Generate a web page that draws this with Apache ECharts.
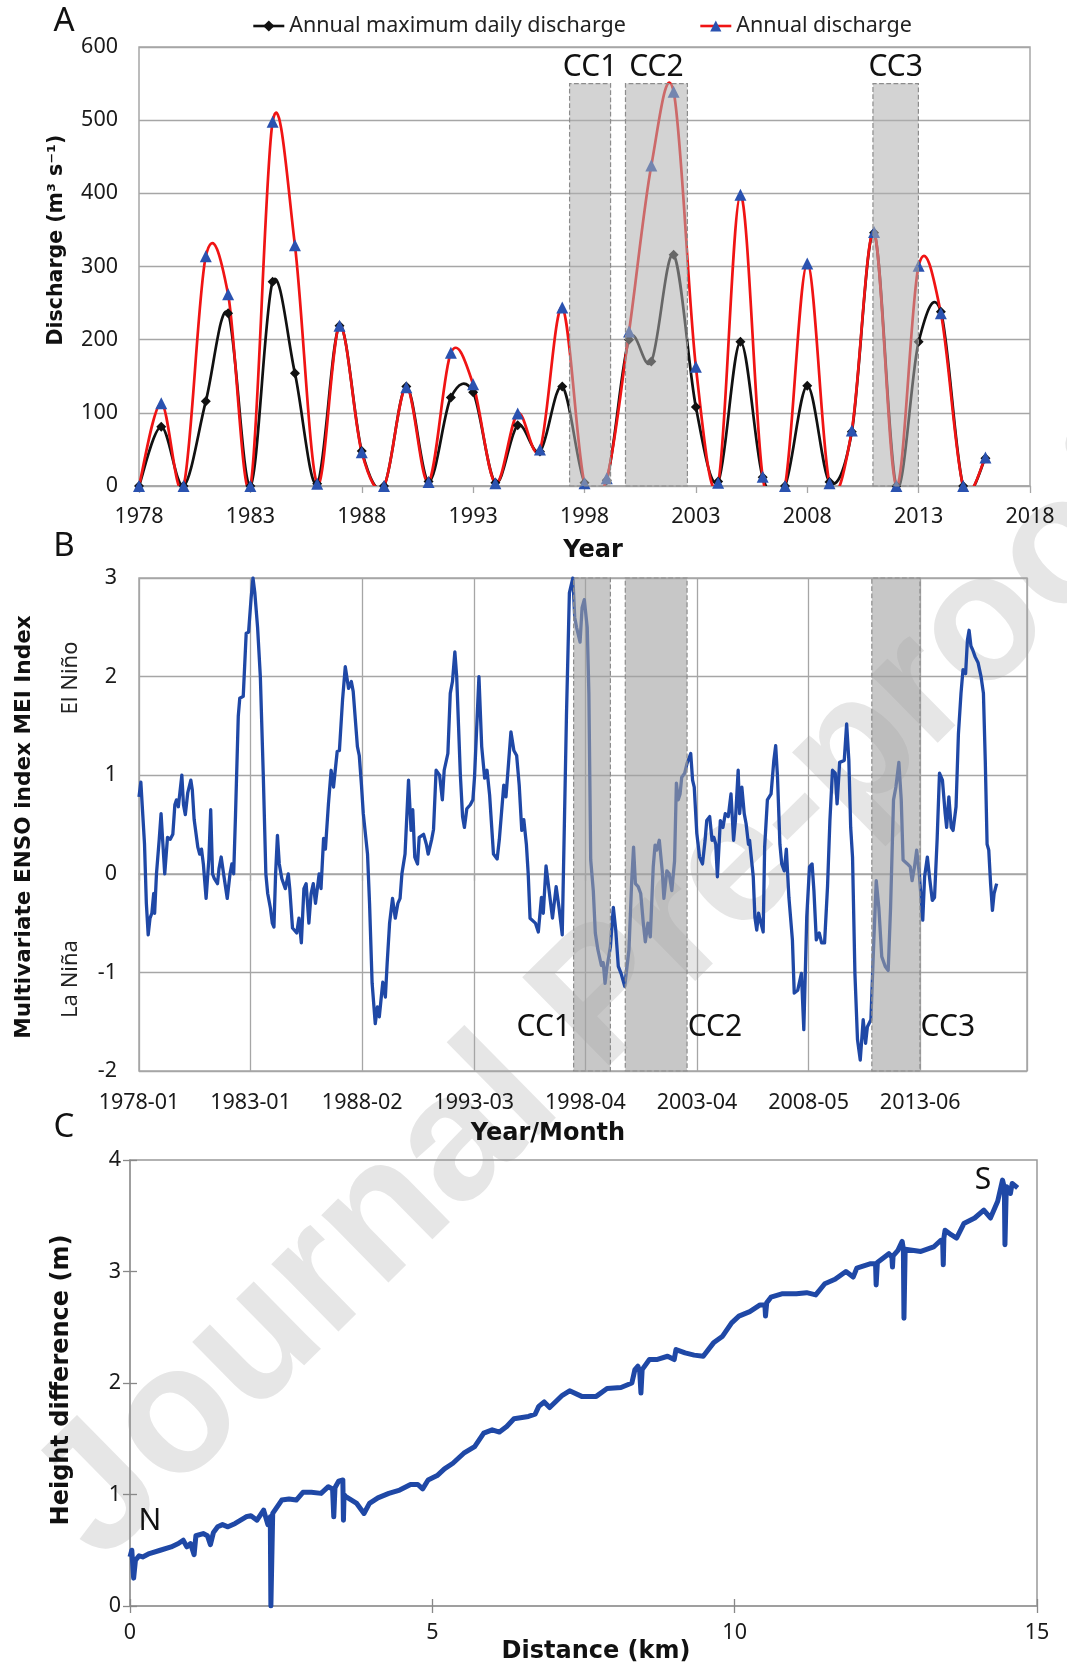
<!DOCTYPE html>
<html><head><meta charset="utf-8">
<script src="https://cdn.jsdelivr.net/npm/echarts@6/dist/echarts.min.js"></script>
<style>html,body{margin:0;padding:0;background:#fff}#c{width:1067px;height:1668px}</style>
</head><body><div id="c"></div>
<script>
// ---------- Panel A data ----------
const baseYear = 1978;
const years = [1978,1979,1980,1981,1982,1983,1984,1985,1986,1987,1988,1989,1990,1991,1992,1993,1994,1995,1996,1997,1998,1999,2000,2001,2002,2003,2004,2005,2006,2007,2008,2009,2010,2011,2012,2013,2014,2015,2016];
const annualMaxDaily = [0,81,0,116,236,0,279,154,3,219,48,0,136,6,121,128,4.5,83,47,136,4.5,8,200,170,316,108,6,197,12,0,137,5.5,74,346,0,197,238,0,38];
const annualDischarge = [0,113,0,314,262,0,498,329,3,219,46,0,135,5.5,182,139,3.6,99,50,244,3.6,10.5,211,438,539,163,4.5,398,12.7,0,304,3.6,76,347,0,301,236,0,39];
const ccNames = ['CC1','CC2','CC3'];
const ccStartYear = [1997.33, 1999.84, 2010.95];
const ccEndYear = [1999.17, 2002.62, 2012.99];
const ccTopA = 550;

// ---------- Panel B data (month index from 1978-01) ----------
const meiTickLabels = ['1978-01','1983-01','1988-02','1993-03','1998-04','2003-04','2008-05','2013-06'];
const monthsPerTick = 60.7;
const ccStartMonth = [236.4, 264.5, 398.6];
const ccEndMonth = [256.4, 298.1, 424.8];
const meiMonth = [0,1,2,3,4,5,6,7,8,8.5,9.5,11,12,13,14,15.5,17,18.4,19.5,20.4,21.4,23.3,24.2,25.2,26.5,28.2,29,30,32,33,34,35,36.5,38,39,40,41,42.7,43.5,44.7,46,48,49.5,50.5,51.5,52.5,54,54.8,56.7,58.3,59.6,61,62,63,64.5,66,67.6,69,70,71.5,72.5,73.4,74.3,75.3,76.3,77.7,79.6,81.2,82,83.5,84.5,85.8,87,88.3,89.7,90.9,92.4,93.6,94.8,96,98,99,100.4,101.4,103,104.5,105.8,107.8,109,110.7,112.2,114,115.5,116.5,118.8,119.8,121,122,124.3,125.4,126.8,128.5,129.7,130.7,132.6,134,135,136.3,137.9,139.4,140.8,142,143,144.7,146.6,148,148.9,150,151.5,152.4,154.8,156.3,157.3,159.2,160.2,161.6,163.5,165,166,168,169.3,170.5,171.8,172.8,173.8,174.8,176,177,178.3,180.2,181.6,182.5,184.9,186.4,188,189.3,190.7,192.8,194.8,196,198.4,199.6,202.3,203.9,205.4,206.8,208.2,209.3,210.7,211.7,212.7,215.6,217.2,218.9,219.9,221.4,224.9,226.9,228.5,230.2,231.2,232.5,234.1,236,237,238,239.9,241,242.2,243.8,244.7,245.7,247.1,248.2,249.6,251.5,252.5,253.5,254.5,256.4,258,259.3,260.7,262.2,264.2,265.1,266.5,268,269,270,271.5,272.9,274.3,275.4,276.8,278.1,279.7,280.7,281.6,283,284.6,285.5,287.1,288.4,289.8,291.3,292.3,293.3,294.3,295.2,296.8,298.1,300.1,301.1,302,303.4,304.9,306.5,307.9,308.8,310.4,311.7,312.7,313.7,314.6,316.2,317.6,318.9,320.5,322,323.4,324.4,325.9,326.7,327.9,329.2,330.2,331.5,332.1,334.1,335,336,337,338.3,339.5,340.3,341.8,343.8,345.3,346.3,347.3,348.6,349.6,351,352.1,353.5,355.4,356.4,358.3,360.3,361.6,363.2,364.7,366.1,367.1,368.4,370,371.3,372.9,374.5,375.8,377.2,378.7,379.7,381.1,383.6,384.9,386.1,387.1,388.1,389.4,390.8,392.3,393.9,395.2,396.2,398.1,399.7,401,402.4,404,405.9,407.5,408.8,410.4,411.7,413.3,414.6,415.6,416.6,418,419.5,420.5,421.8,423,424.4,426.3,427.3,428.8,430.2,431.5,432.7,434.1,435.4,437,438.5,439.3,440.5,441.8,442.8,444.4,445.7,447.1,448.2,449.6,450.6,451.5,452.5,453.5,454.8,456.4,458,459.3,460.3,461.3,462.2,463.2,464.2,465.1,466.5];
const meiValue = [0.78,0.93,0.92,0.3,-0.3,-0.62,-0.45,-0.4,-0.2,-0.4,0.0,0.35,0.61,0.3,0.0,0.37,0.35,0.4,0.7,0.75,0.68,1.0,0.7,0.6,0.82,0.95,0.85,0.55,0.27,0.2,0.25,0.1,-0.25,0.15,0.65,0.0,-0.05,-0.1,0.05,0.17,0.0,-0.25,0.0,0.1,0.0,0.6,1.6,1.78,1.8,2.44,2.45,2.8,3.0,2.85,2.5,2.0,1.0,0.0,-0.2,-0.35,-0.5,-0.54,0.0,0.39,0.1,-0.05,-0.15,0.0,-0.15,-0.55,-0.55,-0.6,-0.45,-0.7,-0.15,-0.1,-0.5,-0.2,-0.1,-0.3,0.0,-0.15,0.36,0.25,0.7,1.05,0.88,1.24,1.25,1.76,2.1,1.88,1.95,1.85,1.29,1.2,0.9,0.61,0.2,-0.3,-1.11,-1.52,-1.35,-1.45,-1.1,-1.25,-0.9,-0.5,-0.25,-0.45,-0.3,-0.25,0.0,0.2,0.95,0.44,0.65,0.17,0.1,0.37,0.4,0.3,0.2,0.35,0.45,1.05,1.0,0.75,1.05,1.22,1.83,1.95,2.25,2.0,1.5,1.0,0.58,0.47,0.66,0.7,0.75,0.98,2.0,1.29,0.97,1.05,0.8,0.2,0.15,0.35,0.9,0.78,1.44,1.25,1.2,0.9,0.44,0.55,0.3,0.0,-0.45,-0.5,-0.59,-0.24,-0.4,0.08,-0.45,-0.13,-0.35,-0.62,0.34,1.6,2.85,3.0,2.6,2.5,2.35,2.7,2.78,2.5,1.83,0.14,-0.17,-0.6,-0.77,-0.93,-0.9,-1.11,-0.95,-0.74,-0.34,-0.57,-0.94,-1.01,-1.14,-1.14,-0.77,-0.07,0.27,-0.1,-0.13,-0.2,-0.5,-0.69,-0.5,-0.64,0.07,0.29,0.24,0.34,0.03,-0.25,0.03,0.0,-0.17,0.13,0.92,0.75,0.81,0.98,1.02,1.12,1.22,0.95,0.88,0.41,0.17,0.1,0.34,0.54,0.58,0.34,0.37,0.3,-0.03,0.54,0.47,0.61,0.58,0.81,0.34,0.54,1.05,0.61,0.88,0.61,0.51,0.3,0.34,-0.03,-0.44,-0.57,-0.4,-0.5,-0.59,0.27,0.75,0.81,1.15,1.3,0.98,0.3,0.1,0.03,0.25,-0.24,-0.67,-1.21,-1.18,-1.01,-1.58,-0.44,0.07,0.1,-0.17,-0.67,-0.6,-0.7,-0.7,-0.13,0.54,1.05,1.02,0.71,1.13,1.15,1.52,1.15,0.47,0.17,-1.01,-1.68,-1.89,-1.48,-1.72,-1.55,-1.48,-0.67,-0.07,-0.34,-0.84,-0.94,-0.98,-0.34,0.75,0.88,1.13,0.75,0.14,0.13,0.1,0.07,-0.07,0.07,0.24,0.0,-0.47,-0.03,0.17,-0.07,-0.27,-0.24,0.34,1.02,0.95,0.61,0.47,0.78,0.47,0.44,0.68,1.42,1.83,2.07,2.03,2.37,2.47,2.31,2.27,2.2,2.14,2.0,1.83,1.15,0.3,0.24,-0.1,-0.37,-0.2,-0.1];

// ---------- Panel C data ----------
const distKm = [0,0.03,0.06,0.09,0.15,0.21,0.32,0.5,0.68,0.8,0.88,0.94,1.0,1.06,1.09,1.21,1.28,1.33,1.38,1.45,1.53,1.62,1.74,1.92,2.0,2.1,2.21,2.28,2.32,2.33,2.35,2.36,2.39,2.51,2.63,2.75,2.86,3.0,3.16,3.28,3.35,3.37,3.39,3.45,3.52,3.53,3.54,3.57,3.75,3.87,3.96,4.1,4.28,4.46,4.64,4.76,4.84,4.93,5.08,5.2,5.34,5.52,5.7,5.85,5.99,6.11,6.23,6.35,6.59,6.7,6.76,6.85,6.94,7.15,7.27,7.47,7.71,7.89,8.12,8.3,8.35,8.4,8.43,8.45,8.47,8.59,8.71,8.89,9.0,9.03,9.18,9.33,9.48,9.65,9.8,9.95,10.07,10.25,10.42,10.5,10.51,10.53,10.6,10.78,11.02,11.19,11.34,11.49,11.66,11.84,11.96,12.02,12.25,12.33,12.34,12.36,12.55,12.6,12.61,12.62,12.7,12.77,12.79,12.8,12.82,12.85,13.08,13.29,13.41,13.44,13.45,13.46,13.48,13.58,13.67,13.79,13.97,14.12,14.23,14.35,14.43,14.46,14.47,14.49,14.5,14.56,14.59,14.68];
const heightM = [0.44,0.5,0.25,0.41,0.45,0.44,0.47,0.5,0.53,0.56,0.59,0.53,0.56,0.46,0.63,0.65,0.63,0.55,0.66,0.71,0.73,0.71,0.74,0.8,0.81,0.77,0.86,0.73,0.8,0.0,0.0,0.83,0.83,0.95,0.96,0.95,1.02,1.02,1.01,1.07,1.05,0.8,1.06,1.12,1.13,0.77,1.0,0.98,0.92,0.83,0.92,0.97,1.01,1.04,1.09,1.09,1.05,1.13,1.17,1.23,1.28,1.37,1.43,1.55,1.58,1.56,1.61,1.68,1.7,1.72,1.79,1.83,1.78,1.89,1.93,1.88,1.88,1.95,1.96,2.0,2.12,2.15,2.1,1.91,2.12,2.21,2.21,2.24,2.21,2.3,2.27,2.25,2.24,2.36,2.42,2.54,2.6,2.64,2.7,2.7,2.6,2.72,2.77,2.8,2.8,2.81,2.79,2.89,2.93,3.0,2.95,3.03,3.07,3.07,2.88,3.08,3.16,3.13,3.04,3.14,3.19,3.27,3.2,2.58,3.2,3.19,3.18,3.22,3.28,3.26,3.06,3.3,3.37,3.33,3.3,3.43,3.48,3.55,3.48,3.63,3.82,3.75,3.24,3.7,3.76,3.7,3.79,3.75];

// ---------- styling ----------
const F = '"Noto Sans","DejaVu Sans",sans-serif';
const FB = '"DejaVu Sans",sans-serif';
const GRID = '#a6a6a6';
const TXT = '#1a1a1a';
const BLUE = '#1f48a6';
const RED = '#f01414';
const BLACK = '#111111';

const lbl = (extra) => Object.assign({fontFamily:F, fontSize:21.5, color:TXT}, extra||{});

// Excel-like smoothed curve (Catmull-Rom Bezier, 1/6 tangents) through the data points of a custom series
function smoothCurve(color, width) {
  return function (params, api) {
    const i = params.dataIndexInside, n = params.dataInsideLength;
    if (i >= n - 1) return null;
    const P = k => { k = Math.max(0, Math.min(n - 1, k)); return api.coord([api.value(0, k), api.value(1, k)]); };
    const p0 = P(i - 1), p1 = P(i), p2 = P(i + 1), p3 = P(i + 2);
    return {
      type: 'bezierCurve',
      shape: {x1:p1[0], y1:p1[1], x2:p2[0], y2:p2[1],
              cpx1:p1[0] + (p2[0] - p0[0]) / 6, cpy1:p1[1] + (p2[1] - p0[1]) / 6,
              cpx2:p2[0] - (p3[0] - p1[0]) / 6, cpy2:p2[1] - (p3[1] - p1[1]) / 6},
      style: {stroke:color, lineWidth:width, fill:'none', lineCap:'round'}
    };
  };
}

const bandsA = ccNames.map((n,i)=>[
  {name:n, xAxis: ccStartYear[i]-baseYear, yAxis: 0},
  {xAxis: ccEndYear[i]-baseYear, yAxis: ccTopA}
]);
const bandsB = ccNames.map((n,i)=>[
  {name:n, xAxis: ccStartMonth[i], yAxis: -2,
   label: i===0 ? {position:[-2,'91%'], align:'right', verticalAlign:'middle'}
                : {position:['100%','91%'], align:'left', verticalAlign:'middle'}},
  {xAxis: ccEndMonth[i], yAxis: 3}
]);

const ptsMax = years.map((y,i)=>[y-baseYear, annualMaxDaily[i]]);
const ptsAnn = years.map((y,i)=>[y-baseYear, annualDischarge[i]]);

const T = (text, x, y, font, extra, fill) => Object.assign({type:'text', x:x, y:y, silent:true,
  style:{text:text, fill:fill||'#111', font:font, align:'center', verticalAlign:'middle', textAlign:'center', textVerticalAlign:'middle'}}, extra||{});

const chart = echarts.init(document.getElementById('c'), null, {renderer:'canvas'});
chart.setOption({
  animation:false,
  backgroundColor:'#ffffff',
  legend:[
    {left:247, top:10, itemWidth:31, itemHeight:14, data:['Annual maximum daily discharge'],
     lineStyle:{color:BLACK, width:2.6, opacity:1}, textStyle:lbl({fontSize:21.5, color:'#222'})},
    {left:694, top:10, itemWidth:31, itemHeight:14, data:['Annual discharge'],
     lineStyle:{color:RED, width:2.6, opacity:1}, textStyle:lbl({fontSize:21.5, color:'#222'})}
  ],
  grid:[
    {left:139, top:47, width:891, height:439, show:true, borderColor:GRID, borderWidth:1.5},
    {left:139, top:578, width:888, height:493, show:true, borderColor:GRID, borderWidth:1.5},
    {left:130, top:1160, width:907, height:446, show:true, borderColor:'#999', borderWidth:1.5}
  ],
  xAxis:[
    {gridIndex:0, type:'value', min:0, max:40, interval:5,
     axisLine:{show:true, lineStyle:{color:GRID, width:1.5}},
     axisTick:{show:true, length:7, lineStyle:{color:GRID, width:1.3}},
     axisLabel:lbl({margin:20, formatter:v=>String(baseYear+v)}),
     splitLine:{show:false}},
    {gridIndex:1, type:'value', min:0, max:483, interval:monthsPerTick,
     axisLine:{show:true, lineStyle:{color:GRID, width:1.5}},
     axisTick:{show:true, length:7, lineStyle:{color:GRID, width:1.3}},
     axisLabel:lbl({margin:21, showMaxLabel:false, formatter:v=>{const k=Math.round(v/monthsPerTick); return Math.abs(k*monthsPerTick-v)<0.01 ? (meiTickLabels[k]||'') : '';}}),
     splitLine:{show:true, lineStyle:{color:GRID, width:1.3}}},
    {gridIndex:2, type:'value', min:0, max:15, interval:5,
     axisLine:{show:true, lineStyle:{color:'#999', width:1.5}},
     axisTick:{show:true, inside:true, length:7, lineStyle:{color:'#888', width:1.3}},
     axisLabel:lbl({margin:16}),
     splitLine:{show:false}},
    {gridIndex:2, type:'value', position:'top', min:0, max:15, interval:5,
     axisLine:{show:false}, axisLabel:{show:false},
     axisTick:{show:true, inside:true, length:7, lineStyle:{color:'#888', width:1.3}},
     splitLine:{show:false}}
  ],
  yAxis:[
    {gridIndex:0, type:'value', min:0, max:600, interval:100,
     axisLine:{show:false}, axisTick:{show:false},
     axisLabel:lbl({margin:21}),
     splitLine:{show:true, lineStyle:{color:GRID, width:1.3}}},
    {gridIndex:1, type:'value', min:-2, max:3, interval:1,
     axisLine:{show:false}, axisTick:{show:false},
     axisLabel:lbl({margin:22}),
     splitLine:{show:true, lineStyle:{color:GRID, width:1.3}}},
    {gridIndex:2, type:'value', min:0, max:4, interval:1,
     axisLine:{show:true, lineStyle:{color:'#999', width:1.5}},
     axisTick:{show:true, inside:true, length:7, lineStyle:{color:'#888', width:1.3}},
     axisLabel:lbl({margin:9}),
     splitLine:{show:false}},
    {gridIndex:2, type:'value', position:'right', min:0, max:4, interval:1,
     axisLine:{show:false}, axisLabel:{show:false},
     axisTick:{show:true, inside:true, length:7, lineStyle:{color:'#888', width:1.3}},
     splitLine:{show:false}}
  ],
  series:[
    {name:'maxCurve', type:'custom', xAxisIndex:0, yAxisIndex:0, z:2, clip:true, silent:true,
     data: ptsMax, encode:{x:0, y:1}, renderItem: smoothCurve(BLACK, 2.7)},
    {name:'annCurve', type:'custom', xAxisIndex:0, yAxisIndex:0, z:3, clip:true, silent:true,
     data: ptsAnn, encode:{x:0, y:1}, renderItem: smoothCurve(RED, 2.7)},
    {name:'Annual maximum daily discharge', type:'line', xAxisIndex:0, yAxisIndex:0, z:4,
     data: ptsMax, symbol:'diamond', symbolSize:10,
     lineStyle:{color:BLACK, width:2.6, opacity:0}, itemStyle:{color:BLACK}},
    {name:'Annual discharge', type:'line', xAxisIndex:0, yAxisIndex:0, z:5,
     data: ptsAnn, symbol:'triangle', symbolSize:12,
     lineStyle:{color:RED, width:2.6, opacity:0}, itemStyle:{color:'#2a52b0'}},
    {name:'bandsA', type:'line', xAxisIndex:0, yAxisIndex:0, data:[], silent:true,
     markArea:{silent:true, z:10,
       itemStyle:{color:'rgba(175,175,175,0.55)', borderColor:'#8c8c8c', borderType:'dashed', borderWidth:1.2},
       label:{show:true, position:'top', distance:1, fontFamily:F, fontSize:30, color:'#111'},
       data: bandsA}},
    {name:'MEI', type:'line', xAxisIndex:1, yAxisIndex:1, z:3,
     data: meiMonth.map((m,i)=>[m, meiValue[i]]),
     showSymbol:false, symbol:'none', lineStyle:{color:BLUE, width:3.3, join:'round'}},
    {name:'bandsB', type:'line', xAxisIndex:1, yAxisIndex:1, data:[], silent:true,
     markArea:{silent:true, z:10,
       itemStyle:{color:'rgba(161,161,161,0.6)', borderColor:'#8c8c8c', borderType:'dashed', borderWidth:1.2},
       label:{show:true, fontFamily:F, fontSize:30, color:'#111'},
       data: bandsB}},
    {name:'Height', type:'line', xAxisIndex:2, yAxisIndex:2, z:3,
     data: distKm.map((d,i)=>[d, heightM[i]]),
     showSymbol:false, symbol:'none', lineStyle:{color:BLUE, width:5, join:'round'}}
  ],
  graphic:[
    {type:'text', x:605, y:1000, rotation:44.5*Math.PI/180, z:-10, silent:true,
     style:{text:'Journal Pre-proof', fill:'#e6e6e6', font:'bold 180px "Liberation Sans", sans-serif', textAlign:'center', textVerticalAlign:'middle', align:'center', verticalAlign:'middle'}},
    T('A', 64, 22, '33px '+F),
    T('B', 64, 547, '33px '+F),
    T('C', 64, 1128, '33px '+F),
    T('Year', 593, 551, 'bold 24px '+FB),
    T('Year/Month', 548, 1134, 'bold 24px '+FB),
    T('Distance (km)', 596, 1652, 'bold 24px '+FB),
    T('Discharge (m³ s⁻¹)', 57, 240, 'bold 20.5px '+FB, {rotation:Math.PI/2}),
    T('Multivariate ENSO index MEI Index', 24, 827, 'bold 21.6px '+FB, {rotation:Math.PI/2}),
    T('El Niño', 71, 678, '22px '+F, {rotation:Math.PI/2}, '#222'),
    T('La Niña', 71, 979, '22px '+F, {rotation:Math.PI/2}, '#222'),
    T('Height difference (m)', 62, 1380, 'bold 24px '+FB, {rotation:Math.PI/2}),
    T('N', 150, 1521, '30px '+F),
    T('S', 983, 1180, '30px '+F)
  ]
});
</script></body></html>
